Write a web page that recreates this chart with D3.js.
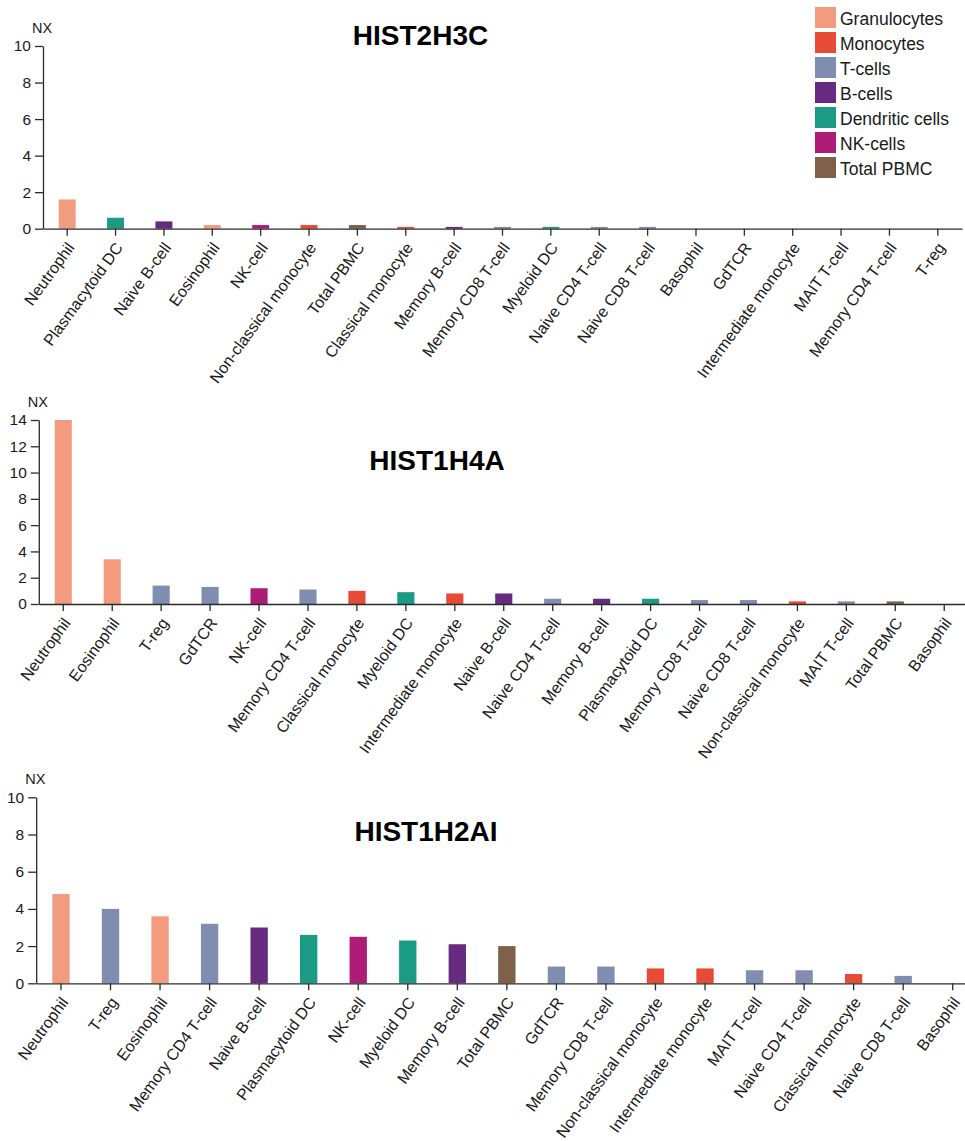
<!DOCTYPE html>
<html>
<head>
<meta charset="utf-8">
<script src="https://cdn.jsdelivr.net/npm/d3@7"></script>
<style>
  html, body { margin: 0; padding: 0; background: #fff; }
  svg { display: block; font-family: "Liberation Sans", Arial, Helvetica, sans-serif; }
  .axis path, .axis line { stroke: #2b2b2b; stroke-width: 1.3; }
  .axis text { fill: #1a1a1a; }
</style>
</head>
<body>
<svg id="chart" width="965" height="1141"></svg>
<script>
// Lineage groups and their colours
const lineages = ["Granulocytes", "Monocytes", "T-cells", "B-cells", "Dendritic cells", "NK-cells", "Total PBMC"];
const lineageColors = ["#f39b7f", "#e64b35", "#7f8db0", "#662a7e", "#1b9a84", "#ad1d78", "#7e6148"];

// Cell type -> lineage
const cellTypes = ["Neutrophil", "Eosinophil", "Basophil",
  "Classical monocyte", "Non-classical monocyte", "Intermediate monocyte",
  "T-reg", "GdTCR", "Memory CD4 T-cell", "Memory CD8 T-cell", "Naive CD4 T-cell", "Naive CD8 T-cell", "MAIT T-cell",
  "Naive B-cell", "Memory B-cell",
  "Plasmacytoid DC", "Myeloid DC",
  "NK-cell",
  "Total PBMC"];
const cellLineage = ["Granulocytes", "Granulocytes", "Granulocytes",
  "Monocytes", "Monocytes", "Monocytes",
  "T-cells", "T-cells", "T-cells", "T-cells", "T-cells", "T-cells", "T-cells",
  "B-cells", "B-cells",
  "Dendritic cells", "Dendritic cells",
  "NK-cells",
  "Total PBMC"];

// HIST2H3C
const hist2h3cCells = ["Neutrophil", "Plasmacytoid DC", "Naive B-cell", "Eosinophil", "NK-cell", "Non-classical monocyte",
  "Total PBMC", "Classical monocyte", "Memory B-cell", "Memory CD8 T-cell", "Myeloid DC", "Naive CD4 T-cell",
  "Naive CD8 T-cell", "Basophil", "GdTCR", "Intermediate monocyte", "MAIT T-cell", "Memory CD4 T-cell", "T-reg"];
const hist2h3cNX = [1.6, 0.6, 0.4, 0.2, 0.2, 0.2, 0.2, 0.1, 0.1, 0.1, 0.1, 0.1, 0.1, 0, 0, 0, 0, 0, 0];
const hist2h3cTicks = [0, 2, 4, 6, 8, 10];

// HIST1H4A
const hist1h4aCells = ["Neutrophil", "Eosinophil", "T-reg", "GdTCR", "NK-cell", "Memory CD4 T-cell", "Classical monocyte",
  "Myeloid DC", "Intermediate monocyte", "Naive B-cell", "Naive CD4 T-cell", "Memory B-cell", "Plasmacytoid DC",
  "Memory CD8 T-cell", "Naive CD8 T-cell", "Non-classical monocyte", "MAIT T-cell", "Total PBMC", "Basophil"];
const hist1h4aNX = [14.0, 3.4, 1.4, 1.3, 1.2, 1.1, 1.0, 0.9, 0.8, 0.8, 0.4, 0.4, 0.4, 0.3, 0.3, 0.2, 0.2, 0.2, 0];
const hist1h4aTicks = [0, 2, 4, 6, 8, 10, 12, 14];

// HIST1H2AI
const hist1h2aiCells = ["Neutrophil", "T-reg", "Eosinophil", "Memory CD4 T-cell", "Naive B-cell", "Plasmacytoid DC",
  "NK-cell", "Myeloid DC", "Memory B-cell", "Total PBMC", "GdTCR", "Memory CD8 T-cell", "Non-classical monocyte",
  "Intermediate monocyte", "MAIT T-cell", "Naive CD4 T-cell", "Classical monocyte", "Naive CD8 T-cell", "Basophil"];
const hist1h2aiNX = [4.8, 4.0, 3.6, 3.2, 3.0, 2.6, 2.5, 2.3, 2.1, 2.0, 0.9, 0.9, 0.8, 0.8, 0.7, 0.7, 0.5, 0.4, 0];
const hist1h2aiTicks = [0, 2, 4, 6, 8, 10];

const svg = d3.select("#chart");
const color = d3.scaleOrdinal().domain(lineages).range(lineageColors);
const lineageOf = d3.scaleOrdinal().domain(cellTypes).range(cellLineage);

function drawPanel(opts) {
  const { gene, cells, values, ticks, x0, x1, yTop, yBase, title } = opts;
  const g = svg.append("g");

  const x = d3.scaleBand().domain(cells).range([x0, x1]).paddingInner(0.65).paddingOuter(0.325);
  const y = d3.scaleLinear().domain([0, d3.max(ticks)]).range([yBase, yTop]);

  // bars
  g.append("g").selectAll("rect")
    .data(cells.map((c, i) => ({ cell: c, value: values[i] })))
    .join("rect")
    .attr("x", d => x(d.cell))
    .attr("width", x.bandwidth())
    .attr("y", d => y(d.value))
    .attr("height", d => yBase - y(d.value))
    .attr("fill", d => color(lineageOf(d.cell)));

  // y axis
  g.append("g").attr("class", "axis")
    .attr("transform", `translate(${x0},0)`)
    .call(d3.axisLeft(y).tickValues(ticks).tickSize(8).tickSizeOuter(0).tickPadding(4))
    .call(s => s.selectAll("text").style("font-size", "15.5px"));

  // x axis with slanted category labels
  const xa = g.append("g").attr("class", "axis")
    .attr("transform", `translate(0,${yBase})`)
    .call(d3.axisBottom(x).tickSize(7).tickSizeOuter(0));
  xa.selectAll("text")
    .style("font-size", "16px")
    .attr("text-anchor", "end")
    .attr("dy", null)
    .attr("y", null)
    .attr("transform", "translate(8,19) rotate(-54)");

  // unit label
  g.append("text")
    .attr("x", x0 - 11)
    .attr("y", yTop - 13)
    .style("font-size", "14.5px")
    .attr("fill", "#1a1a1a")
    .text("NX");

  // gene title
  g.append("text")
    .attr("x", title.x)
    .attr("y", title.y)
    .attr("text-anchor", "middle")
    .style("font-size", "28px")
    .style("font-weight", "bold")
    .attr("fill", "#000")
    .text(gene);
}

drawPanel({ gene: "HIST2H3C", cells: hist2h3cCells, values: hist2h3cNX, ticks: hist2h3cTicks,
  x0: 43, x1: 962, yTop: 46, yBase: 228.7, title: { x: 420.5, y: 45 } });
drawPanel({ gene: "HIST1H4A", cells: hist1h4aCells, values: hist1h4aNX, ticks: hist1h4aTicks,
  x0: 38.8, x1: 968.7, yTop: 420, yBase: 604, title: { x: 437, y: 470 } });
drawPanel({ gene: "HIST1H2AI", cells: hist1h2aiCells, values: hist1h2aiNX, ticks: hist1h2aiTicks,
  x0: 36.2, x1: 977.5, yTop: 797.3, yBase: 983.3, title: { x: 426, y: 841 } });

// legend
const legend = svg.append("g").attr("transform", "translate(815,7)");
const rows = legend.selectAll("g").data(lineages).join("g")
  .attr("transform", (d, i) => `translate(0,${i * 25})`);
rows.append("rect").attr("width", 21).attr("height", 21).attr("fill", d => color(d));
rows.append("text").attr("x", 25).attr("y", 17.5)
  .style("font-size", "17.5px").attr("fill", "#1a1a1a").text(d => d);
</script>
</body>
</html>
